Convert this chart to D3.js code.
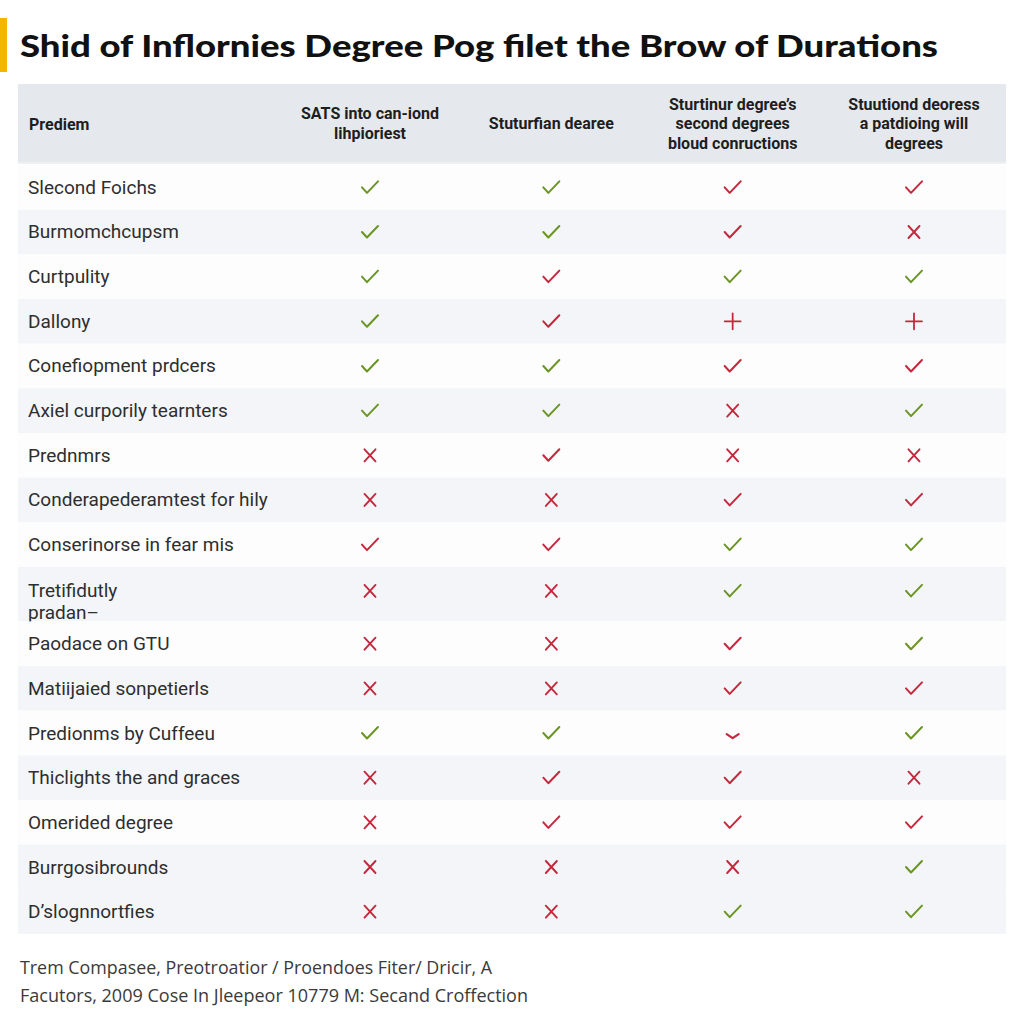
<!DOCTYPE html>
<html><head><meta charset="utf-8">
<script src="https://cdn.jsdelivr.net/npm/d3@7"></script>
<style>body{margin:0;background:#fff}svg{display:block}</style>
</head><body>
<svg id="c" width="1024" height="1024"></svg>
<script>
const title = "Shid of Inflornies Degree Pog filet the Brow of Durations";
const firstHeader = "Prediem";
const columns = [
  ["SATS into can-iond", "lihpioriest"],
  ["Stuturfian dearee"],
  ["Sturtinur degree’s", "second degrees", "bloud conructions"],
  ["Stuutiond deoress", "a patdioing will", "degrees"]
];
const rowLabels = [
  ["Slecond Foichs"], ["Burmomchcupsm"], ["Curtpulity"], ["Dallony"],
  ["Conefiopment prdcers"], ["Axiel curporily tearnters"], ["Prednmrs"],
  ["Conderapederamtest for hily"], ["Conserinorse in fear mis"],
  ["Tretifidutly", "pradan–"], ["Paodace on GTU"], ["Matiijaied sonpetierls"],
  ["Predionms by Cuffeeu"], ["Thiclights the and graces"], ["Omerided degree"],
  ["Burrgosibrounds"], ["D’slognnortfies"]
];
// G = green check, R = red check, X = red cross, P = red plus, V = red chevron
const marks = [
  ["G","G","R","R"], ["G","G","R","X"], ["G","R","G","G"], ["G","R","P","P"],
  ["G","G","R","R"], ["G","G","X","G"], ["X","R","X","X"], ["X","X","R","R"],
  ["R","R","G","G"], ["X","X","G","G"], ["X","X","R","G"], ["X","X","R","R"],
  ["G","G","V","G"], ["X","R","R","X"], ["X","R","R","R"], ["X","X","X","G"],
  ["X","X","G","G"]
];
const footer = [
  "Trem Compasee, Preotroatior / Proendoes Fiter/ Dricir, A",
  "Facutors, 2009 Cose In Jleepeor 10779 M: Secand Croffection"
];

const svg = d3.select("#c");
const GREEN = "#6a9424", RED = "#c4283c";

// title
svg.append("rect").attr("x", 0).attr("y", 18).attr("width", 7).attr("height", 54).attr("fill", "#f4b400");
svg.append("text").attr("x", 20).attr("y", 57).text(title)
  .attr("font-family", "Lato, 'Open Sans', sans-serif").attr("font-weight", 900).attr("font-size", 31)
  .attr("fill", "#111").attr("textLength", 918).attr("lengthAdjust", "spacingAndGlyphs");

const L = 18, R = 1006, headTop = 84, headBot = 162, bodyTop = 165, bodyBot = 934;
const x = d3.scalePoint().domain(d3.range(columns.length)).range([370, 914]);

// header
svg.append("rect").attr("x", L).attr("y", headTop + 2).attr("width", R - L).attr("height", headBot - headTop).attr("fill", "#dfe2e6").attr("opacity", 0.5);
svg.append("rect").attr("x", L).attr("y", headTop).attr("width", R - L).attr("height", headBot - headTop).attr("fill", "#e5e8ec");
const headFont = g => g.attr("font-family", "Roboto, 'Noto Sans', sans-serif").attr("font-weight", 700).attr("font-size", 16).attr("fill", "#1e1e1e");
svg.append("text").attr("x", 29).attr("y", 130).text(firstHeader).call(headFont);
const headMid = (headTop + headBot) / 2;
columns.forEach((lines, i) => {
  const t = svg.append("text").attr("text-anchor", "middle").call(headFont);
  const lh = 19.5;
  lines.forEach((s, k) => {
    t.append("tspan").attr("x", x(i)).attr("y", headMid + 6 + (k - (lines.length - 1) / 2) * lh).text(s);
  });
});

// rows
const units = rowLabels.map(l => l.length > 1 ? 1.22 : 1);
const cum = [0]; units.forEach(u => cum.push(cum[cum.length - 1] + u));
const y = d3.scaleLinear().domain([0, cum[cum.length - 1]]).range([bodyTop, bodyBot]);
const rows = svg.append("g");
rowLabels.forEach((lab, i) => {
  const y0 = y(cum[i]), y1 = y(cum[i + 1]);
  const gray = i % 2 === 1 || i === rowLabels.length - 1;
  rows.append("rect").attr("x", L).attr("y", y0).attr("width", R - L).attr("height", y1 - y0)
    .attr("fill", gray ? "#f3f5f8" : "#fdfdfe");
  const cy = lab.length > 1 ? y0 + 24 : (y0 + y1) / 2;
  const t = rows.append("text").attr("font-family", "Roboto, 'Noto Sans', sans-serif").attr("font-size", 19)
    .attr("fill", "#2e2e2e");
  lab.forEach((s, k) => t.append("tspan").attr("x", 28).attr("y", cy + 6.5 + k * 22).text(s));
  marks[i].forEach((m, j) => {
    const g = rows.append("g").attr("transform", `translate(${x(j)},${cy})`)
      .attr("fill", "none").attr("stroke-linecap", "round").attr("stroke-linejoin", "round");
    if (m === "G" || m === "R") {
      g.append("path").attr("d", "M-8,0 L-3,5.5 L8,-6").attr("stroke", m === "G" ? GREEN : RED).attr("stroke-width", 2);
    } else if (m === "X") {
      g.append("path").attr("d", "M-5.5,-6 L5.5,6 M5.5,-6 L-5.5,6").attr("stroke", RED).attr("stroke-width", 1.9);
    } else if (m === "P") {
      g.append("path").attr("d", "M-8,0 L8,0 M0,-8 L0,8").attr("stroke", RED).attr("stroke-width", 1.8);
    } else if (m === "V") {
      g.append("path").attr("d", "M-6,1 L0,5 L6,1").attr("stroke", RED).attr("stroke-width", 2.2);
    }
  });
});

// footer
footer.forEach((s, k) => {
  svg.append("text").attr("x", 20).attr("y", 974 + k * 28).text(s)
    .attr("font-family", "'Open Sans', 'Noto Sans', sans-serif").attr("font-size", 18).attr("fill", "#3a3a3a")
    .attr("textLength", k === 0 ? 472 : 508).attr("lengthAdjust", "spacingAndGlyphs");
});
</script>
</body></html>
